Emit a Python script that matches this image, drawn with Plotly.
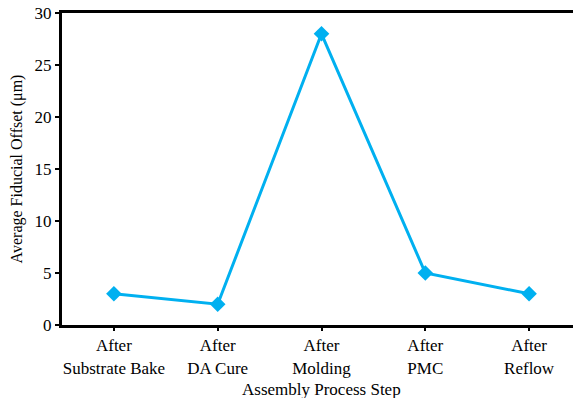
import plotly.graph_objects as go

steps = ["After<br>Substrate Bake", "After<br>DA Cure", "After<br>Molding", "After<br>PMC", "After<br>Reflow"]
offsets = [3, 2, 28, 5, 3]
y_ticks = [0, 5, 10, 15, 20, 25, 30]

font_family = "Liberation Serif, Times New Roman, serif"

fig = go.Figure(go.Scatter(
    x=list(range(len(steps))), y=offsets,
    mode="lines+markers",
    line=dict(color="#00B0F0", width=3),
    marker=dict(symbol="diamond", size=12, color="#00B0F0"),
))

# the page body has an 8px margin, so the figure is sized/offset to compensate
fig.update_layout(
    width=573, height=390,
    margin=dict(l=54, r=0, t=5, b=73, pad=0),
    paper_bgcolor="white", plot_bgcolor="white",
    font=dict(family=font_family, size=17, color="black"),
    showlegend=False,
    xaxis=dict(
        range=[-0.5, 4.5], automargin=False,
        tickvals=list(range(len(steps))), ticktext=steps,
        showline=True, linecolor="black", linewidth=3, mirror=True,
        ticks="outside", ticklen=3, tickwidth=2, tickcolor="black",
        showgrid=False, zeroline=False, ticklabeloverflow="allow",
    ),
    yaxis=dict(
        range=[0, 30], tickvals=y_ticks, automargin=False,
        showline=True, linecolor="black", linewidth=3,
        ticks="outside", ticklen=4, tickwidth=2, tickcolor="black",
        showgrid=False, zeroline=False, ticklabeloverflow="allow",
        title=dict(text="Average Fiducial Offset (μm)", font=dict(size=16), standoff=8),
    ),
    annotations=[dict(
        text="Assembly Process Step", xref="paper", yref="paper",
        x=0.5, y=-0.206, xanchor="center", yanchor="middle",
        showarrow=False, font=dict(size=17),
    )],
)

fig.write_html("out.html")
